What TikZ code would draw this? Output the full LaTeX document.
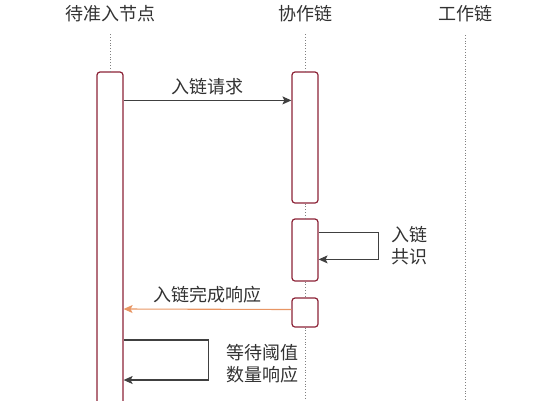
\documentclass[tikz,border=0pt]{standalone}
\usepackage{fontspec}
\setmainfont{Noto Sans CJK SC}
\usetikzlibrary{arrows.meta}
\usetikzlibrary{calc}
\definecolor{boxred}{RGB}{140,35,55}
\definecolor{respcolor}{RGB}{232,150,100}
\definecolor{txtgray}{RGB}{50,50,50}

\begin{document}
\begin{tikzpicture}[x=1pt,y=-1pt,
	act/.style={shape=rectangle, draw=boxred, line width=1.2pt, rounded corners=3pt, minimum width=26pt, inner sep=0pt, fill=white},
	lab/.style={text=txtgray, font=\fontsize{18}{22}\selectfont, align=left},
	msg/.style={-{Stealth[length=9pt,width=8pt,inset=2pt]}, line width=1.1pt, black!75},
	life/.style={dotted, gray, line width=0.8pt}]
		\useasboundingbox (0,0) rectangle (540,400);
		\draw (110,14) node[lab](tnode){待准入节点};
		\draw (305,14) node[lab](tcoop){协作链};
		\draw (465,14) node[lab](twork){工作链};

		\draw (110,241) node[act, minimum height=338pt](b1){};
		\draw (305,137.5) node[act, minimum height=131pt](b2){};
		\draw (305,250) node[act, minimum height=62pt](b3){};
		\draw (305,312.5) node[act, minimum height=29pt](b4){};
		\coordinate (w1) at (465,35);
		\coordinate (w2) at (465,400);
		\coordinate (c1) at (305,400);

		\draw[life] (b1.north) -- ++(0,-37);
		\draw[life] (b2.north) -- ++(0,-37);
		\draw[life] (b2.south) -- (b3.north);
		\draw[life] (b3.south) -- (b4.north);
		\draw[life] (b4.south) -- (c1);
		\draw[life] (w1) -- (w2);

		\draw[msg] ([yshift=-29pt]b1.north east) -- ([yshift=-29pt]b2.north west) node[pos=0.5, above, lab, yshift=2pt] {入链请求};
		\draw[msg] ([yshift=-14pt]b3.north east) -- ++(60,0) -- ++(0,27) -- ++(-60,0);
		\draw (409,246) node[lab]{入链\\共识};

		\draw[msg, respcolor] ([yshift=3pt]b4.west) -- ($(b1.east)+(0,68)$) node[pos=0.5, above, lab, yshift=2pt] {入链完成响应};

		\draw[msg] ($(b1.east)+(0,99)$) -- ++(85,0) -- ++(0,40) -- ++(-85,0);
		\draw (262,364) node[lab]{等待阈值\\数量响应};
	\end{tikzpicture}
\end{document}
